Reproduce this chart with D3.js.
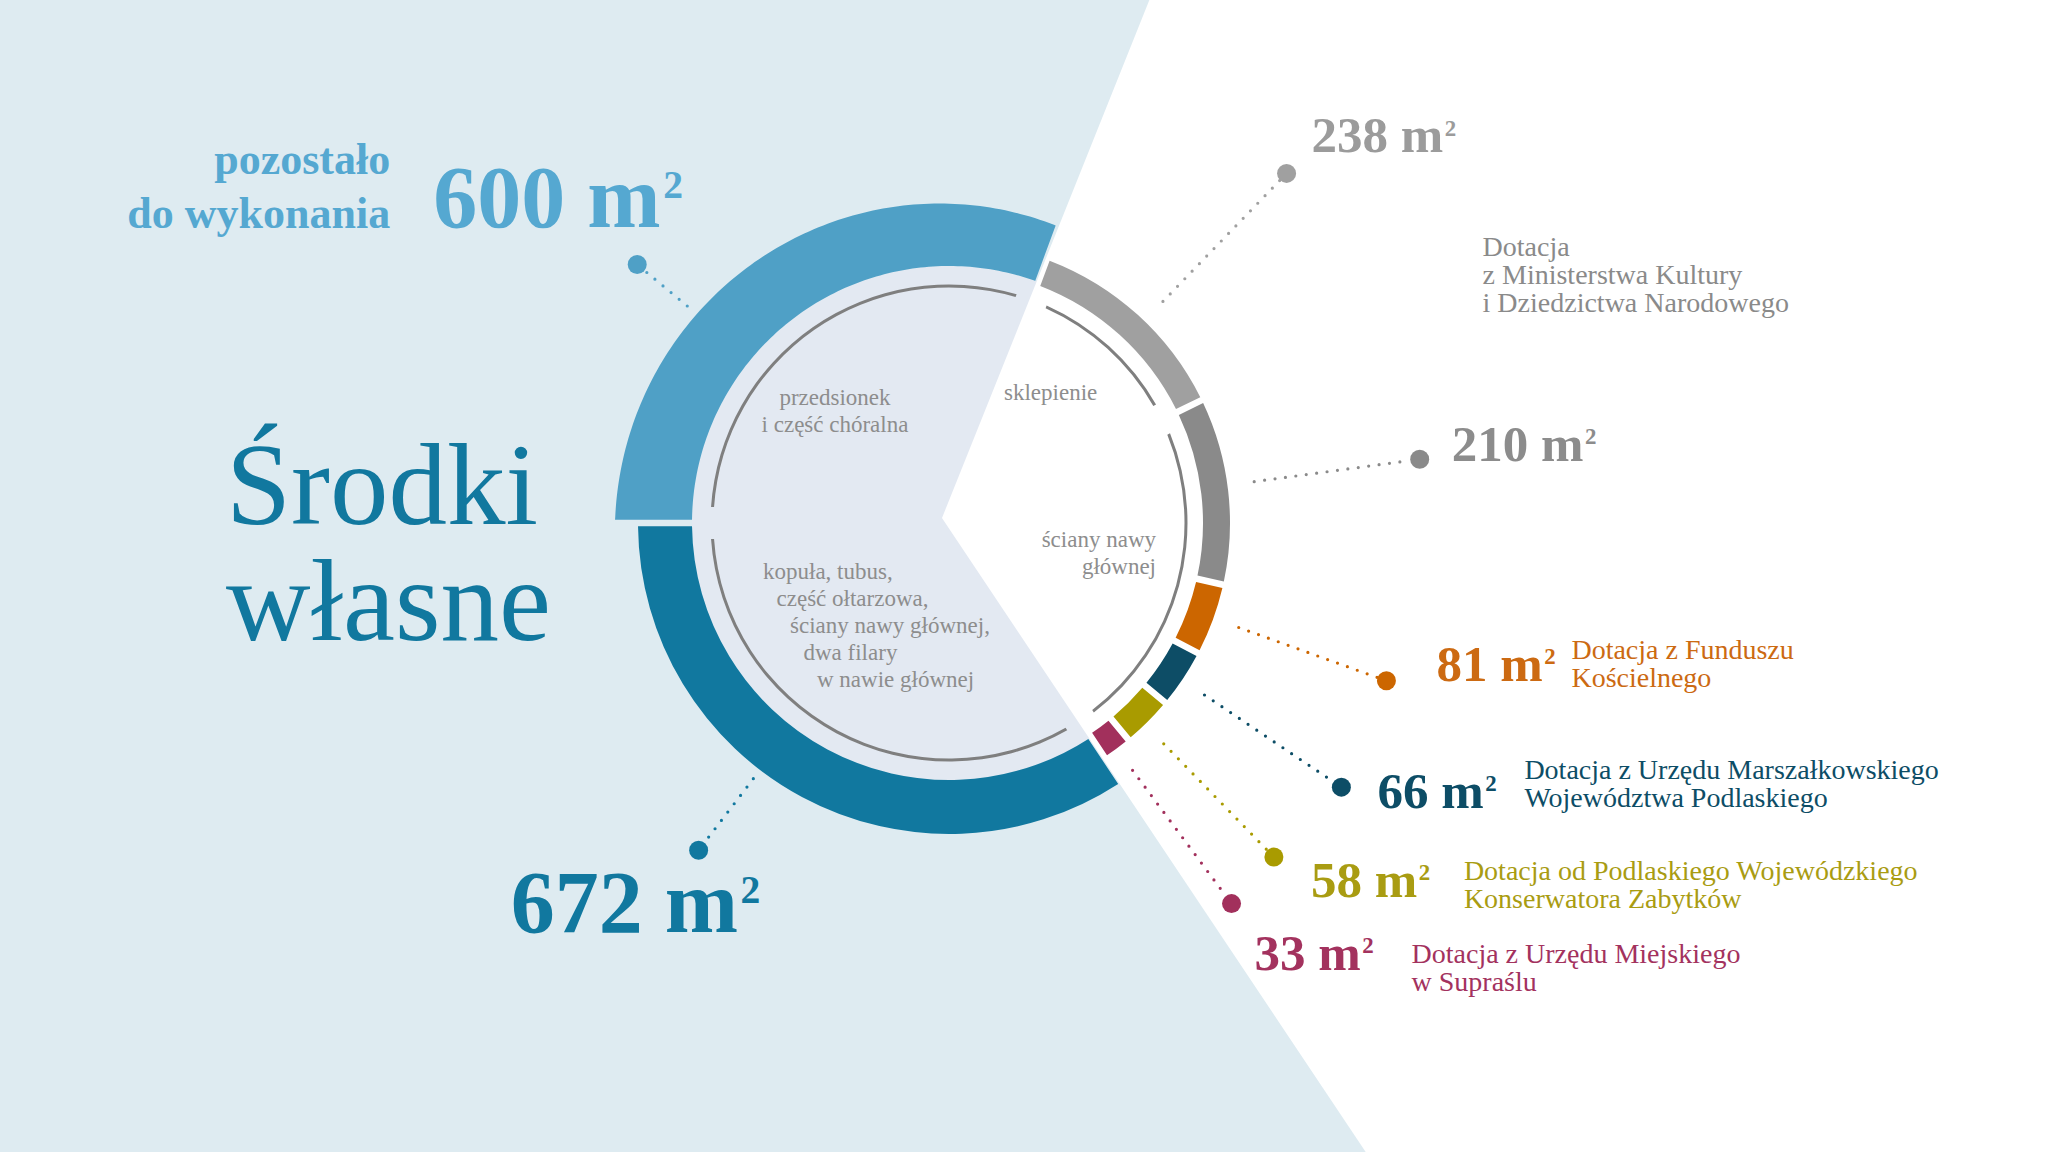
<!DOCTYPE html>
<html><head><meta charset="utf-8">
<script src="https://cdn.jsdelivr.net/npm/d3@7"></script>
<style>html,body{margin:0;padding:0;background:#fff;overflow:hidden}svg{display:block}</style>
</head><body>
<svg id="chart" width="2048" height="1152"></svg>
<script>
// ---------------- DATA ----------------
const segmentKeys = ["pozostalo", "mkidn_sklepienie", "mkidn_sciany", "fundusz", "marszalek", "konserwator", "miasto", "wlasne"];
const areaValues = [600, 238, 210, 81, 66, 58, 33, 672];
const unitBase = "m";
const unitPower = "2";
const sourceLines = [
  ["pozostało", "do wykonania"],
  ["Dotacja", "z Ministerstwa Kultury", "i Dziedzictwa Narodowego"],
  [],
  ["Dotacja z Funduszu", "Kościelnego"],
  ["Dotacja z Urzędu Marszałkowskiego", "Województwa Podlaskiego"],
  ["Dotacja od Podlaskiego Wojewódzkiego", "Konserwatora Zabytków"],
  ["Dotacja z Urzędu Miejskiego", "w Supraślu"],
  []
];
const titleLines = ["Środki", "własne"];
const workScopeOfSegment = [0, 1, 2, 2, 2, 2, 2, 3];
const workScopeLines = [
  ["przedsionek", "i część chóralna"],
  ["sklepienie"],
  ["ściany nawy", "głównej"],
  ["kopuła, tubus,", "część ołtarzowa,", "ściany nawy głównej,", "dwa filary", "w nawie głównej"]
];

// ---------------- STYLE / LAYOUT ----------------
const W = 2048, H = 1152, cx = 949, cy = 523;
const FONT = "'Liberation Serif', 'DejaVu Serif', serif";
const segColors = ["#4fa0c6", "#a0a0a0", "#8a8a8a", "#cc6600", "#0d4d66", "#a99b00", "#a2305c", "#11789f"];
const txtColors = ["#55a8d1", "#9b9b9b", "#8c8c8c", "#cc6a12", "#0d4d66", "#a99c12", "#a3325e", "#11789f"];
const ringR = [
  {inner: 257, outerStart: 334, outerEnd: 316},
  {inner: 254, outer: 281}, {inner: 254, outer: 281}, {inner: 254, outer: 281},
  {inner: 254, outer: 281}, {inner: 254, outer: 281}, {inner: 254, outer: 281},
  {inner: 257, outer: 311}
];
const callout = [
  {nudge: -15.5, r0: 340, r1: 405, vdx: -204, vdy: -38, vsize: 88, ldx: -247, ldy: -91, lsize: 44, lh: 54, lanchor: "end", lweight: "bold"},
  {nudge: 1.8, r0: 308, r1: 486, vdx: 25, vdy: -21, vsize: 51, ldx: 196, ldy: 83, lsize: 28, lh: 28, lanchor: "start", lweight: "normal", lcolor: "#8a8a8a"},
  {nudge: -1.1, r0: 308, r1: 475, vdx: 32, vdy: 2, vsize: 51},
  {nudge: -0.3, r0: 308, r1: 465, vdx: 50, vdy: 0, vsize: 51, ldx: 185, ldy: -22, lsize: 28, lh: 28, lanchor: "start", lweight: "normal"},
  {nudge: 0.3, r0: 308, r1: 473, vdx: 36, vdy: 21, vsize: 51, ldx: 183, ldy: -8, lsize: 28, lh: 28, lanchor: "start", lweight: "normal"},
  {nudge: 0.75, r0: 308, r1: 466, vdx: 37, vdy: 40, vsize: 51, ldx: 190, ldy: 23, lsize: 28, lh: 28, lanchor: "start", lweight: "normal"},
  {nudge: 0, r0: 308, r1: 474, vdx: 23, vdy: 66, vsize: 51, ldx: 180, ldy: 59, lsize: 28, lh: 28, lanchor: "start", lweight: "normal"},
  {nudge: 9.2, r0: 322, r1: 412, vdx: -188, vdy: 82, vsize: 88}
];
const scopeLayout = [
  {x: -114, y: -118, anchor: "middle", indent: 0},
  {x: 55, y: -123, anchor: "start", indent: 0},
  {x: 207, y: 24, anchor: "end", indent: 0},
  {x: -186, y: 56, anchor: "start", indent: 13.5}
];
const SCOPE_LH = 27;

// ---------------- DRAW ----------------
const svg = d3.select("#chart");
const rad = d => d * Math.PI / 180;

svg.append("rect").attr("width", W).attr("height", H).attr("fill", "#deebf1");

const pie = d3.pie().sort(null).value(d => d)
  .startAngle(-Math.PI / 2).endAngle(3 * Math.PI / 2);
const arcsData = pie(areaValues);

const g = svg.append("g").attr("transform", `translate(${cx},${cy})`);

// inner disk
g.append("circle").attr("r", 257).attr("fill", "#e3e9f2");

// white wedge (the grants side)
const topA = arcsData[0].endAngle + rad(1.5);
const botA = arcsData[6].endAngle - rad(0.2);
svg.append("path")
  .attr("transform", `translate(${cx - 7},${cy - 5})`)
  .attr("d", d3.arc()({innerRadius: 0, outerRadius: 2600, startAngle: topA, endAngle: botA}))
  .attr("fill", "#ffffff");

const ringG = svg.append("g").attr("transform", `translate(${cx},${cy})`);
const halfPad = 3.25;
const segArc = d3.arc().padAngle(0.065).padRadius(100);

arcsData.forEach((d, i) => {
  const R = ringR[i];
  if (R.outerStart !== undefined) {
    // tapering ring segment
    const n = 120, pts = [];
    for (let k = 0; k <= n; k++) {
      const t = k / n;
      const r = R.outerStart + (R.outerEnd - R.outerStart) * t;
      let a = d.startAngle + (d.endAngle - d.startAngle) * t;
      if (k === 0) a += Math.asin(halfPad / r);
      if (k === n) a -= Math.asin(halfPad / r);
      pts.push([a, r]);
    }
    for (let k = n; k >= 0; k--) {
      const t = k / n;
      let a = d.startAngle + (d.endAngle - d.startAngle) * t;
      if (k === 0) a += Math.asin(halfPad / R.inner);
      if (k === n) a -= Math.asin(halfPad / R.inner);
      pts.push([a, R.inner]);
    }
    ringG.append("path")
      .attr("d", d3.lineRadial().angle(p => p[0]).radius(p => p[1]).curve(d3.curveLinearClosed)(pts))
      .attr("fill", segColors[i]);
  } else {
    ringG.append("path")
      .attr("d", segArc({innerRadius: R.inner, outerRadius: R.outer, startAngle: d.startAngle, endAngle: d.endAngle}))
      .attr("fill", segColors[i]);
  }
});

// inner thin arcs grouped by scope of work
const scopeGroups = d3.groups(arcsData.map((d, i) => ({d, s: workScopeOfSegment[i]})), e => e.s)
  .map(([s, arr]) => ({s, startAngle: d3.min(arr, e => e.d.startAngle), endAngle: d3.max(arr, e => e.d.endAngle)}));
const thinArc = d3.arc().innerRadius(235.5).outerRadius(238.5).padAngle(0.3214).padRadius(100);
ringG.selectAll("path.scope").data(scopeGroups).join("path")
  .attr("class", "scope").attr("d", thinArc).attr("fill", "#7f7f7f");

// scope labels
scopeGroups.forEach(sg => {
  const L = scopeLayout[sg.s];
  const t = ringG.append("text")
    .attr("font-family", FONT).attr("font-size", 23).attr("fill", "#8d8d8d")
    .attr("text-anchor", L.anchor);
  workScopeLines[sg.s].forEach((line, k) => {
    t.append("tspan").attr("x", L.x + k * L.indent).attr("y", L.y + k * SCOPE_LH).text(line);
  });
});

// callouts
const calloutG = svg.append("g").attr("transform", `translate(${cx},${cy})`);
arcsData.forEach((d, i) => {
  const C = callout[i];
  const a = (d.startAngle + d.endAngle) / 2 + rad(C.nudge);
  const px = r => Math.sin(a) * r, py = r => -Math.cos(a) * r;
  const dotR = 9.5;
  calloutG.append("line")
    .attr("x1", px(C.r0)).attr("y1", py(C.r0))
    .attr("x2", px(C.r1 - dotR)).attr("y2", py(C.r1 - dotR))
    .attr("stroke", segColors[i]).attr("stroke-width", 3.2)
    .attr("stroke-linecap", "round").attr("stroke-dasharray", "0 10.5");
  calloutG.append("circle").attr("cx", px(C.r1)).attr("cy", py(C.r1)).attr("r", dotR)
    .attr("fill", segColors[i]);

  const vx = px(C.r1) + C.vdx, vy = py(C.r1) + C.vdy;
  const vt = calloutG.append("text").attr("x", vx).attr("y", vy)
    .attr("font-family", FONT).attr("font-weight", "bold").attr("font-size", C.vsize)
    .attr("fill", txtColors[i]);
  vt.append("tspan").text(`${areaValues[i]} ${unitBase}`);
  vt.append("tspan").attr("font-size", C.vsize * 0.45).attr("dx", C.vsize * 0.03)
    .attr("dy", -C.vsize * 0.33).text(unitPower);

  if (sourceLines[i].length) {
    const lt = calloutG.append("text")
      .attr("font-family", FONT).attr("font-size", C.lsize).attr("font-weight", C.lweight)
      .attr("fill", C.lcolor || txtColors[i]).attr("text-anchor", C.lanchor);
    sourceLines[i].forEach((line, k) => {
      lt.append("tspan").attr("x", px(C.r1) + C.ldx).attr("y", py(C.r1) + C.ldy + k * C.lh).text(line);
    });
  }
});

// title
const title = svg.append("text").attr("font-family", FONT).attr("font-size", 117)
  .attr("fill", "#11789f");
titleLines.forEach((line, k) => {
  title.append("tspan").attr("x", 226).attr("y", 524 + k * 116).text(line);
});
</script>
</body></html>
